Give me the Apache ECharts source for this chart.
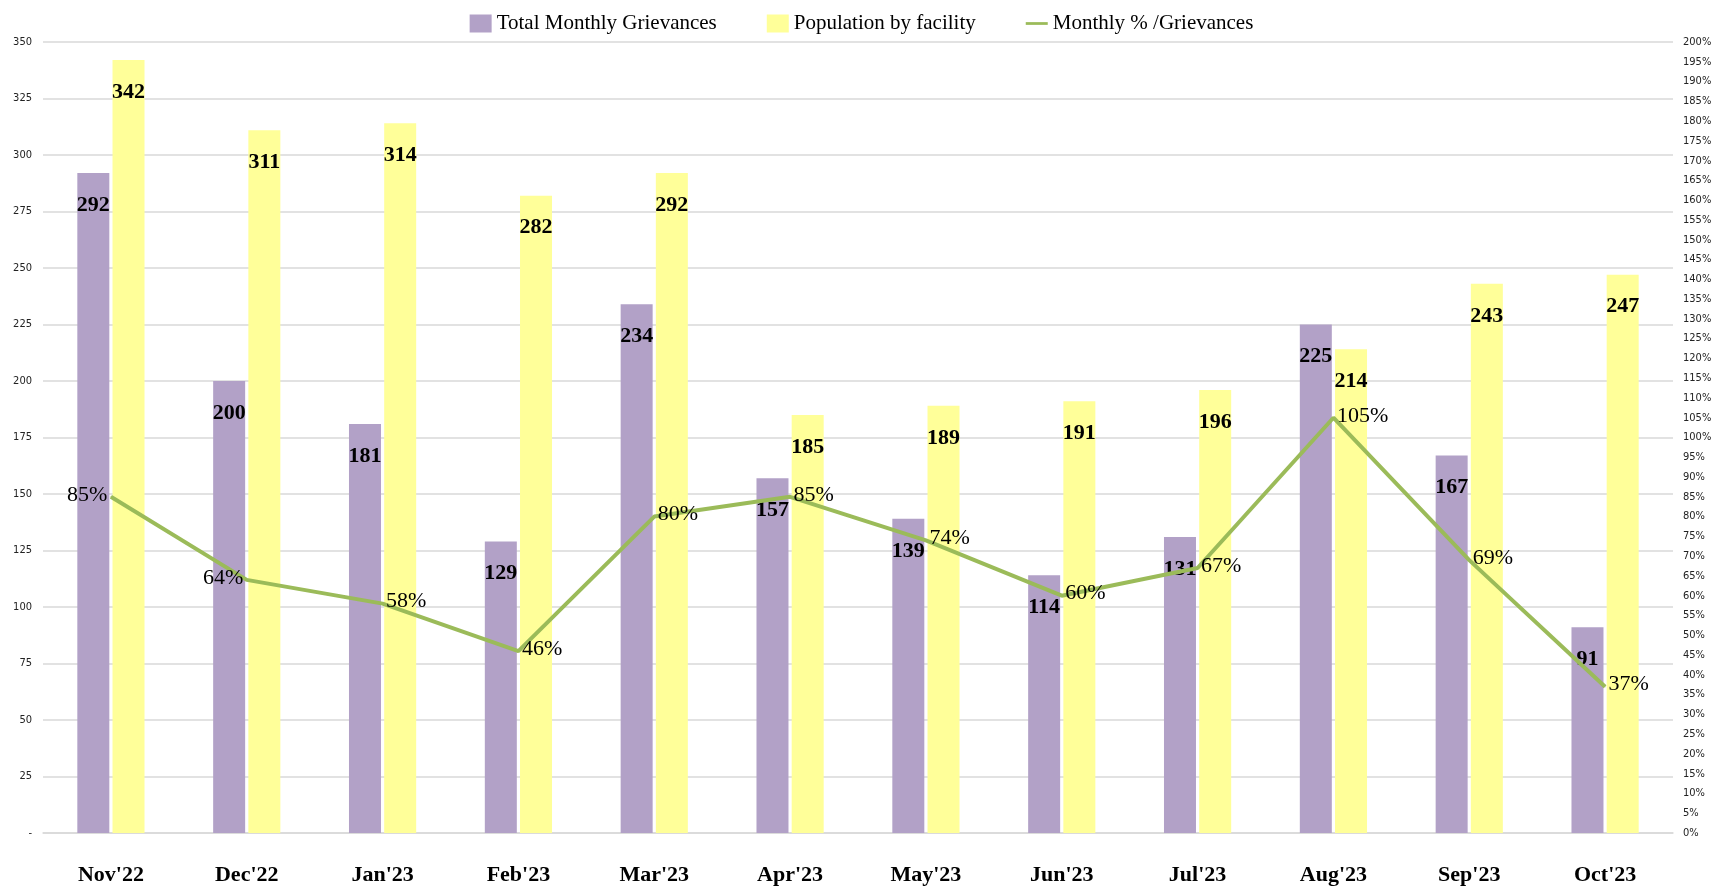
<!DOCTYPE html>
<html>
<head>
<meta charset="utf-8">
<script src="https://cdn.jsdelivr.net/npm/echarts@6/dist/echarts.min.js"></script>
<style>
html,body{margin:0;padding:0;background:#fff;}
#chart{width:1723px;height:891px;}
</style>
</head>
<body>
<div id="chart"></div>
<script>
const categories = ["Nov'22","Dec'22","Jan'23","Feb'23","Mar'23","Apr'23","May'23","Jun'23","Jul'23","Aug'23","Sep'23","Oct'23"];
const grievances = [292,200,181,129,234,157,139,114,131,225,167,91];
const population = [342,311,314,282,292,185,189,191,196,214,243,247];
const monthlyPct = [85,64,58,46,80,85,74,60,67,105,69,37];
const pctLabelSide = ['left','left','right','right','right','right','right','right','right','right','right','right'];

const serif = '"Liberation Serif", "Times New Roman", serif';
const narrow = '"Liberation Sans Narrow", "DejaVu Sans Condensed", sans-serif';

const chart = echarts.init(document.getElementById('chart'));
chart.setOption({
  animation: false,
  backgroundColor: '#ffffff',
  legend: {
    top: 8,
    left: 'center',
    itemGap: 50,
    itemWidth: 22,
    itemHeight: 18,
    itemStyle: { borderWidth: 0 },
    textStyle: { fontFamily: serif, fontSize: 21, color: '#000' },
    data: [
      { name: 'Total Monthly Grievances', icon: 'rect' },
      { name: 'Population by facility', icon: 'rect' },
      { name: 'Monthly % /Grievances', icon: 'path://M0,8 L24,8 L24,11 L0,11 Z' }
    ]
  },
  grid: { left: 43, right: 50, top: 42, bottom: 58, containLabel: false },
  xAxis: {
    type: 'category',
    data: categories,
    axisTick: { show: false },
    axisLine: { lineStyle: { color: '#D9D9D9', width: 1.5 } },
    axisLabel: { fontFamily: serif, fontWeight: 'bold', fontSize: 22, color: '#000', margin: 31 }
  },
  yAxis: [
    {
      type: 'value', min: 0, max: 350, interval: 25,
      axisLine: { show: false }, axisTick: { show: false },
      splitLine: { lineStyle: { color: '#D9D9D9', width: 1.5 } },
      axisLabel: {
        fontFamily: narrow, fontSize: 11, color: '#222', margin: 11,
        formatter: v => v === 0 ? '-' : String(v)
      }
    },
    {
      type: 'value', min: 0, max: 200, interval: 5,
      axisLine: { show: false }, axisTick: { show: false },
      splitLine: { show: false },
      axisLabel: { fontFamily: narrow, fontSize: 11, color: '#222', margin: 10, formatter: '{value}%' }
    }
  ],
  series: [
    {
      name: 'Total Monthly Grievances',
      type: 'bar',
      data: grievances,
      barWidth: 32,
      barGap: '10%',
      itemStyle: { color: '#B2A1C7' },
      label: {
        show: true, position: 'insideTop', distance: 21,
        fontFamily: serif, fontWeight: 'bold', fontSize: 22, color: '#000'
      }
    },
    {
      name: 'Population by facility',
      type: 'bar',
      data: population,
      barWidth: 32,
      itemStyle: { color: '#FFFF99' },
      label: {
        show: true, position: 'insideTop', distance: 21,
        fontFamily: serif, fontWeight: 'bold', fontSize: 22, color: '#000'
      }
    },
    {
      name: 'Monthly % /Grievances',
      type: 'line',
      yAxisIndex: 1,
      data: monthlyPct.map((v, i) => ({
        value: v,
        label: { position: pctLabelSide[i], offset: [0, -2] }
      })),
      showSymbol: true,
      symbol: 'circle',
      symbolSize: 1,
      lineStyle: { color: '#9BBB59', width: 4 },
      itemStyle: { color: '#9BBB59' },
      label: {
        show: true, distance: 3,
        fontFamily: serif, fontSize: 22, color: '#000',
        formatter: p => p.value + '%'
      },
      z: 5
    }
  ]
});
</script>
</body>
</html>
